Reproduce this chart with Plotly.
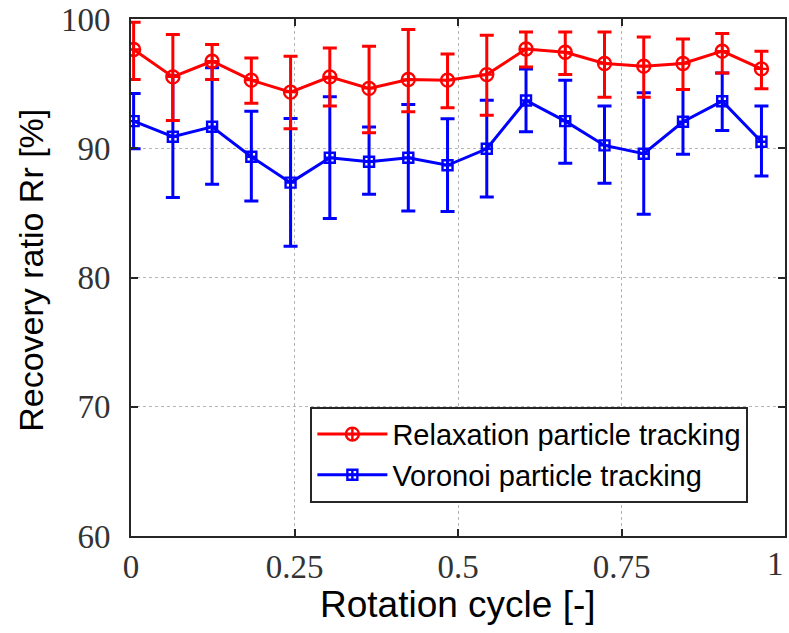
import plotly.graph_objects as go

cycle = [0.004, 0.064, 0.124, 0.184, 0.244, 0.304, 0.364, 0.424, 0.484,
         0.544, 0.604, 0.664, 0.724, 0.784, 0.844, 0.904, 0.964]

relax_mean = [97.64, 95.52, 96.73, 95.27, 94.34, 95.52, 94.63, 95.32, 95.27,
              95.70, 97.68, 97.43, 96.56, 96.35, 96.56, 97.51, 96.14]
relax_upper = [99.75, 98.80, 98.02, 96.99, 97.12, 97.76, 97.89, 99.18, 97.30,
               98.74, 99.00, 99.00, 99.00, 98.61, 98.46, 98.87, 97.51]
relax_lower = [95.32, 92.15, 95.32, 93.49, 91.50, 93.26, 91.20, 92.82, 93.13,
               92.56, 96.29, 95.70, 93.95, 93.95, 94.55, 95.83, 94.60]

voronoi_mean = [92.10, 90.89, 91.66, 89.34, 87.34, 89.27, 88.96, 89.27, 88.68,
                89.96, 93.70, 92.10, 90.22, 89.58, 92.05, 93.64, 90.50]
voronoi_upper = [94.24, 95.60, 96.22, 92.87, 92.31, 93.98, 91.64, 93.39, 92.28,
                 93.72, 96.14, 95.27, 93.26, 94.29, 94.55, 95.83, 93.26]
voronoi_lower = [89.96, 86.18, 87.21, 85.92, 82.42, 84.56, 86.44, 85.15, 85.10,
                 86.23, 91.27, 88.83, 87.29, 84.90, 89.53, 91.38, 87.85]

x_ticks = [0, 0.25, 0.5, 0.75, 1]
x_ticklabels = ["0", "0.25", "0.5", "0.75", "1"]
y_ticks = [60, 70, 80, 90, 100]

x_title = "Rotation cycle [-]"
y_title = "Recovery ratio Rr [%]"

def plus(m, u):
    return [a - b for a, b in zip(u, m)]

def minus(m, l):
    return [b - a for a, b in zip(l, m)]

tick_font = dict(family="Liberation Serif", size=33, color="#333333")

fig = go.Figure()

fig.add_trace(go.Scatter(
    x=cycle, y=voronoi_mean, mode="lines+markers",
    name="Voronoi particle tracking", legendrank=2,
    line=dict(color="#0000ff", width=3),
    marker=dict(symbol="square-cross-open", size=10, color="#0000ff",
                line=dict(width=2.4, color="#0000ff")),
    error_y=dict(type="data", symmetric=False,
                 array=plus(voronoi_mean, voronoi_upper),
                 arrayminus=minus(voronoi_mean, voronoi_lower),
                 color="#0000ff", thickness=3, width=7),
))

fig.add_trace(go.Scatter(
    x=cycle, y=relax_mean, mode="lines+markers",
    name="Relaxation particle tracking", legendrank=1,
    line=dict(color="#ff0000", width=3),
    marker=dict(symbol="circle-cross-open", size=13, color="#ff0000",
                line=dict(width=2.4, color="#ff0000")),
    error_y=dict(type="data", symmetric=False,
                 array=plus(relax_mean, relax_upper),
                 arrayminus=minus(relax_mean, relax_lower),
                 color="#ff0000", thickness=3, width=7),
))

axis_common = dict(
    showline=True, linecolor="#262626", linewidth=2, mirror="allticks",
    ticks="inside", ticklen=7, tickwidth=1.5, tickcolor="#262626",
    showgrid=True, gridcolor="#b5b5b5", griddash="dot", gridwidth=1.2,
    zeroline=False, tickfont=tick_font,
)

# x tick labels: the last ("1") is drawn as an annotation since it sits at the page edge
fig.update_xaxes(range=[0, 1], tickvals=x_ticks[:-1], ticktext=x_ticklabels[:-1],
                 ticklabelstandoff=0, **axis_common)
fig.update_yaxes(range=[60, 100], tickvals=y_ticks,
                 ticklabelstandoff=12, **axis_common)

fig.add_annotation(x=x_ticks[-1], y=0, xref="x", yref="paper",
                   text=x_ticklabels[-1], showarrow=False,
                   xanchor="right", yanchor="top", yshift=-8, xshift=1,
                   font=tick_font)

fig.add_annotation(x=0.5, y=-0.133, xref="paper", yref="paper",
                   text=x_title, showarrow=False, xanchor="center", yanchor="middle",
                   font=dict(family="Liberation Sans", size=37, color="#000000"))
fig.add_annotation(x=-0.154, y=0.5135, xref="paper", yref="paper",
                   text=y_title, showarrow=False, textangle=-90,
                   xanchor="center", yanchor="middle",
                   font=dict(family="Liberation Sans", size=34, color="#000000"))

fig.update_layout(
    width=789, height=633,
    margin=dict(l=131, r=2, t=18, b=97),
    paper_bgcolor="white", plot_bgcolor="white",
    showlegend=True,
    legend=dict(x=0.944, y=0.25, xanchor="right", yanchor="top",
                bgcolor="white", bordercolor="#262626", borderwidth=2,
                font=dict(family="Liberation Sans", size=29, color="#000000"),
                itemwidth=70, tracegroupgap=0),
)

fig.write_html("out.html")
